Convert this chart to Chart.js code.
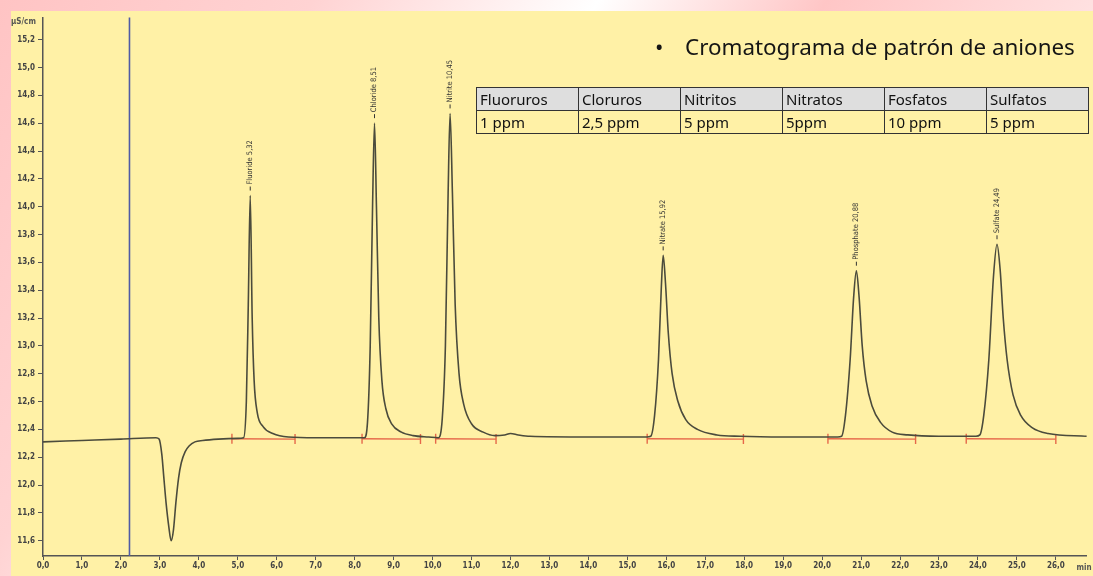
<!DOCTYPE html>
<html>
<head>
<meta charset="utf-8">
<script src="https://cdn.jsdelivr.net/npm/chart.js@4/dist/chart.umd.min.js"></script>
<style>
html, body { margin: 0; padding: 0; }
body {
  width: 1093px; height: 576px; overflow: hidden; position: relative;
  background: linear-gradient(120deg, #ffc4c4 0%, #ffd3d3 22%, #ffffff 42%, #ffc6c6 58%, #ffe2e2 78%, #ffffff 100%);
}
#panel { position: absolute; left: 11px; top: 11px; width: 1082px; height: 565px; background: #fff1a6; }
#titulo { position: absolute; left: 655px; top: 31px; font: 22.4px "Noto Sans", sans-serif; color: #151515; white-space: nowrap; }
#titulo span { display: inline-block; width: 30px; }
#tabla { position: absolute; left: 476px; top: 87px; border-collapse: collapse; font: 15px "Noto Sans", sans-serif; color: #111; }
#tabla td { border: 1px solid #333; width: 98px; height: 22px; padding: 0 0 0 3px; line-height: 20px; white-space: nowrap; }
#tabla tr.cab td { background: #dedede; }
</style>
</head>
<body>
<div id="panel"><canvas id="cromatograma"></canvas></div>
<div id="titulo"><span>•</span>Cromatograma de patrón de aniones</div>
<table id="tabla"><tr class="cab"></tr><tr></tr></table>
<script>
// tabla de concentraciones
const aniones = ["Fluoruros", "Cloruros", "Nitritos", "Nitratos", "Fosfatos", "Sulfatos"];
const concentraciones = ["1 ppm", "2,5 ppm", "5 ppm", "5ppm", "10 ppm", "5 ppm"];

// picos identificados
const nombresPico = ["Fluoride", "Chloride", "Nitrite", "Nitrate", "Phosphate", "Sulfate"];
const tiemposPico = [5.32, 8.51, 10.45, 15.92, 20.88, 24.49];
const alturasPico = [14.08, 14.60, 14.67, 13.65, 13.54, 13.73];

// tramos de integracion (linea base roja)
const inicioIntegracion = [4.85, 8.19, 10.08, 15.51, 20.15, 23.70];
const finIntegracion = [6.47, 9.69, 11.63, 17.98, 22.40, 26.00];
const lineaBase = 12.333;

// marca de inyeccion (linea azul)
const tiempoMarca = 2.22;

const tiempo = [0, 1, 2, 2.9, 2.98, 3.05, 3.10, 3.16, 3.23, 3.29, 3.35, 3.41, 3.48, 3.55, 3.65, 3.75, 3.9, 4.1, 4.5, 5.0,
  5.15, 5.22, 5.27, 5.32, 5.37, 5.42, 5.5, 5.65, 5.9, 6.3, 7.0, 8.0,
  8.25, 8.33, 8.40, 8.46, 8.51, 8.56, 8.62, 8.70, 8.80, 8.95, 9.2, 9.5, 9.9,
  10.15, 10.25, 10.33, 10.40, 10.45, 10.51, 10.58, 10.68, 10.8, 11.0, 11.3, 11.6, 11.85, 12.0, 12.2, 12.5, 14.0, 15.5,
  15.6, 15.7, 15.8, 15.87, 15.92, 15.98, 16.05, 16.15, 16.3, 16.5, 16.8, 17.3, 17.9, 19.0, 20.4,
  20.5, 20.6, 20.72, 20.81, 20.88, 20.95, 21.03, 21.13, 21.28, 21.5, 21.8, 22.2, 23.0, 23.95,
  24.05, 24.15, 24.28, 24.4, 24.49, 24.57, 24.65, 24.75, 24.9, 25.1, 25.4, 25.8, 26.8];
const senal = [12.31, 12.32, 12.33, 12.34, 12.33, 12.22, 12.06, 11.87, 11.70, 11.60, 11.68, 11.87, 12.05, 12.16, 12.24, 12.28, 12.31, 12.32, 12.33, 12.335,
  12.34, 12.6, 13.3, 14.08, 13.2, 12.75, 12.52, 12.42, 12.37, 12.345, 12.34, 12.34,
  12.34, 12.45, 13.0, 14.0, 14.60, 14.0, 13.2, 12.75, 12.55, 12.44, 12.38, 12.355, 12.345,
  12.34, 12.48, 13.0, 14.1, 14.67, 14.1, 13.3, 12.8, 12.58, 12.44, 12.38, 12.355, 12.36, 12.37, 12.36, 12.35, 12.345, 12.345,
  12.35, 12.5, 12.9, 13.4, 13.65, 13.45, 13.1, 12.8, 12.6, 12.47, 12.4, 12.36, 12.35, 12.345, 12.345,
  12.35, 12.5, 12.9, 13.35, 13.54, 13.35, 13.0, 12.75, 12.57, 12.45, 12.38, 12.36, 12.35, 12.35,
  12.36, 12.5, 12.9, 13.5, 13.73, 13.55, 13.2, 12.9, 12.65, 12.5, 12.41, 12.37, 12.35];

// construir tabla html
const filas = document.querySelectorAll('#tabla tr');
aniones.forEach(a => { const td = document.createElement('td'); td.textContent = a; filas[0].appendChild(td); });
concentraciones.forEach(c => { const td = document.createElement('td'); td.textContent = c; filas[1].appendChild(td); });

const coma = v => v.toFixed(1).replace('.', ',');

const datasets = [{
  data: tiempo.map((t, i) => ({ x: t, y: senal[i] })),
  borderColor: '#4b4b3c',
  borderWidth: 1.6,
  pointRadius: 0,
  cubicInterpolationMode: 'monotone',
  order: 0
}];
inicioIntegracion.forEach((ini, i) => {
  datasets.push({
    data: [{ x: ini, y: lineaBase }, { x: finIntegracion[i], y: lineaBase - 0.003 }],
    borderColor: '#e6684a',
    borderWidth: 1.4,
    pointStyle: 'line',
    rotation: 90,
    pointRadius: 5,
    pointBorderColor: '#e6684a',
    pointBorderWidth: 1.4,
    order: 1
  });
});

const extras = {
  id: 'extras',
  beforeDatasetsDraw(chart) {
    const { ctx, chartArea, scales: { x } } = chart;
    const px = x.getPixelForValue(tiempoMarca);
    ctx.save();
    ctx.strokeStyle = '#4f5ba6';
    ctx.lineWidth = 1.6;
    ctx.beginPath();
    ctx.moveTo(px, chartArea.top);
    ctx.lineTo(px, chartArea.bottom);
    ctx.stroke();
    ctx.restore();
  },
  afterDraw(chart) {
    const { ctx, chartArea, scales: { x, y } } = chart;
    ctx.save();
    ctx.fillStyle = '#333';
    ctx.strokeStyle = '#333';
    ctx.lineWidth = 1;
    ctx.font = '7.5px "DejaVu Sans Condensed", "DejaVu Sans", sans-serif';
    nombresPico.forEach((n, i) => {
      const px = x.getPixelForValue(tiemposPico[i]);
      const py = y.getPixelForValue(alturasPico[i]);
      ctx.beginPath();
      ctx.moveTo(px, py - 5);
      ctx.lineTo(px, py - 9);
      ctx.stroke();
      ctx.save();
      ctx.translate(px, py - 11);
      ctx.rotate(-Math.PI / 2);
      ctx.textAlign = 'left';
      ctx.textBaseline = 'middle';
      ctx.fillText(n + ' ' + tiemposPico[i].toFixed(2).replace('.', ','), 0, 0);
      ctx.restore();
    });
    ctx.font = 'bold 8px "DejaVu Sans Condensed", "DejaVu Sans", sans-serif';
    ctx.fillStyle = '#555';
    ctx.textAlign = 'left';
    ctx.textBaseline = 'middle';
    ctx.fillText('µS/cm', 0, chartArea.top + 5);
    ctx.fillText('min', chartArea.right - 10, chartArea.bottom + 12);
    ctx.restore();
  }
};

new Chart(document.getElementById('cromatograma'), {
  type: 'line',
  data: { datasets },
  options: {
    responsive: true,
    maintainAspectRatio: false,
    animation: false,
    layout: { padding: { top: 1, right: 0, left: 0, bottom: 0 } },
    plugins: { legend: { display: false }, tooltip: { enabled: false } },
    scales: {
      x: {
        type: 'linear',
        min: 0,
        max: 26.79,
        afterFit(s) { s.height = 20; s.paddingLeft = 0; s.paddingRight = 0; },
        border: { color: '#555', width: 1.5 },
        grid: { drawOnChartArea: false, tickLength: 4, color: '#555' },
        ticks: {
          stepSize: 1,
          includeBounds: false,
          maxRotation: 0,
          autoSkip: false,
          padding: 1,
          color: '#444',
          font: { size: 8, weight: 'bold', family: '"DejaVu Sans Condensed", "DejaVu Sans", sans-serif' },
          callback: v => coma(v)
        }
      },
      y: {
        min: 11.49,
        max: 15.36,
        afterFit(s) { s.width = 32; s.paddingTop = 0; s.paddingBottom = 0; },
        border: { color: '#555', width: 1.5 },
        grid: { drawOnChartArea: false, tickLength: 5, color: '#555' },
        ticks: {
          stepSize: 0.2,
          includeBounds: false,
          autoSkip: false,
          padding: 3,
          color: '#444',
          font: { size: 8, weight: 'bold', family: '"DejaVu Sans Condensed", "DejaVu Sans", sans-serif' },
          callback: v => coma(v)
        }
      }
    }
  },
  plugins: [extras]
});
</script>
</body>
</html>
